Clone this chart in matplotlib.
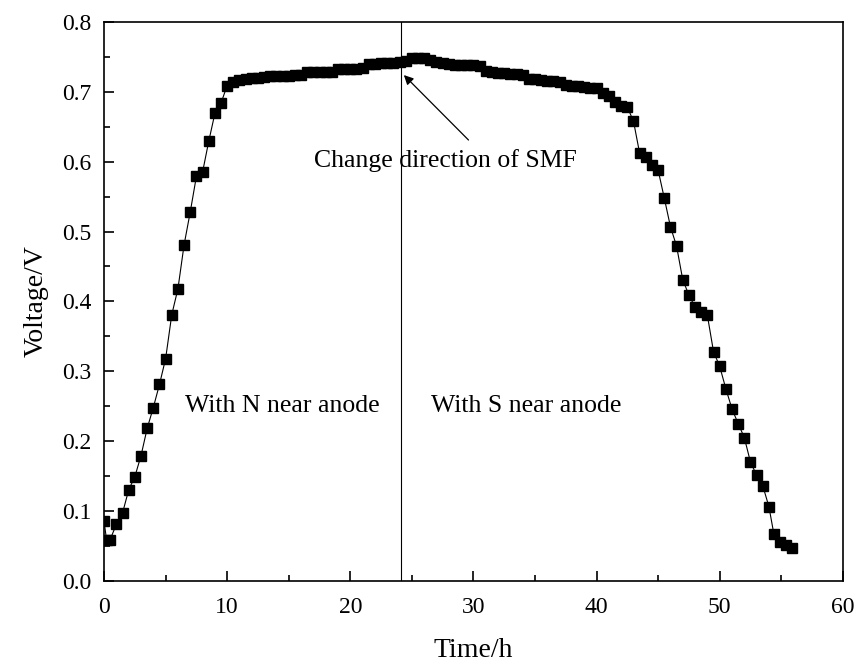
import matplotlib
matplotlib.use('Agg')
import matplotlib.pyplot as plt
import numpy as np
from matplotlib.ticker import MultipleLocator

plt.rcParams['font.family'] = ['Liberation Serif', 'DejaVu Serif']
plt.rcParams['mathtext.fontset'] = 'stix'

# time (h) and cell voltage (V)
time_h = [0.0, 0.2, 0.5, 1.0, 1.5, 2.0, 2.5, 3.0, 3.5, 4.0, 4.5, 5.0, 5.5,
          6.0, 6.5, 7.0, 7.5, 8.0, 8.5, 9.0, 9.5, 10.0, 10.5, 11.0, 11.5,
          12.0, 12.5, 13.0, 13.5, 14.0, 14.5, 15.0, 15.5, 16.0, 16.5, 17.0,
          17.5, 18.0, 18.5, 19.0, 19.5, 20.0, 20.5, 21.0, 21.5, 22.0, 22.5,
          23.0, 23.5, 24.0, 24.5, 25.0, 25.5, 26.0, 26.5, 27.0, 27.5, 28.0,
          28.5, 29.0, 29.5, 30.0, 30.5, 31.0, 31.5, 32.0, 32.5, 33.0, 33.5,
          34.0, 34.5, 35.0, 35.5, 36.0, 36.5, 37.0, 37.5, 38.0, 38.5, 39.0,
          39.5, 40.0, 40.5, 41.0, 41.5, 42.0, 42.5, 43.0, 43.5, 44.0, 44.5,
          45.0, 45.5, 46.0, 46.5, 47.0, 47.5, 48.0, 48.5, 49.0, 49.5, 50.0,
          50.5, 51.0, 51.5, 52.0, 52.5, 53.0, 53.5, 54.0, 54.4, 54.9, 55.4,
          55.9]
voltage = [0.085, 0.059, 0.059, 0.081, 0.097, 0.130, 0.149, 0.179, 0.218,
           0.248, 0.281, 0.318, 0.381, 0.418, 0.481, 0.528, 0.579, 0.585,
           0.629, 0.669, 0.684, 0.709, 0.714, 0.717, 0.719, 0.720, 0.720,
           0.721, 0.722, 0.722, 0.722, 0.723, 0.724, 0.724, 0.728, 0.728,
           0.729, 0.729, 0.729, 0.732, 0.733, 0.733, 0.733, 0.734, 0.740,
           0.740, 0.741, 0.741, 0.741, 0.742, 0.744, 0.749, 0.749, 0.748,
           0.745, 0.742, 0.741, 0.740, 0.739, 0.739, 0.738, 0.738, 0.737,
           0.730, 0.728, 0.727, 0.727, 0.726, 0.726, 0.724, 0.719, 0.718,
           0.717, 0.716, 0.715, 0.714, 0.710, 0.709, 0.708, 0.707, 0.706,
           0.705, 0.698, 0.694, 0.686, 0.680, 0.678, 0.658, 0.612, 0.606,
           0.595, 0.588, 0.548, 0.507, 0.479, 0.431, 0.409, 0.392, 0.385,
           0.380, 0.328, 0.307, 0.275, 0.246, 0.225, 0.205, 0.170, 0.151,
           0.136, 0.106, 0.067, 0.056, 0.051, 0.047]

switch_time = 24.1

fig = plt.figure(figsize=(8.6, 6.66), dpi=100)
ax = fig.add_axes([0.121, 0.128, 0.859, 0.839])

ax.plot(time_h, voltage, color='black', lw=0.8, marker='s', ms=7.8,
        mfc='black', mec='black')
ax.axvline(switch_time, color='black', lw=0.8)

# arrow pointing at the switch, label below it
ax.annotate('', xy=(24.35, 0.724), xytext=(29.6, 0.631),
            arrowprops=dict(arrowstyle='-|>', color='black', lw=0.9,
                            shrinkA=0, shrinkB=0, mutation_scale=14))
ax.text(27.7, 0.602, 'Change direction of SMF', ha='center', va='center',
        fontsize=18.5)
ax.text(14.5, 0.25, 'With N near anode', ha='center', va='center', fontsize=18.5)
ax.text(34.3, 0.25, 'With S near anode', ha='center', va='center', fontsize=18.5)

ax.set_xlim(0, 60)
ax.set_ylim(0, 0.8)
ax.xaxis.set_major_locator(MultipleLocator(10))
ax.xaxis.set_minor_locator(MultipleLocator(5))
ax.yaxis.set_major_locator(MultipleLocator(0.1))
ax.yaxis.set_minor_locator(MultipleLocator(0.05))
ax.yaxis.set_major_formatter(plt.FormatStrFormatter('%.1f'))
ax.tick_params(which='both', direction='in', labelsize=17, width=1.2)
ax.tick_params(which='major', length=7)
ax.tick_params(axis='x', which='major', pad=12)
ax.tick_params(axis='y', which='major', pad=9)
ax.tick_params(which='minor', length=4)
for s in ax.spines.values():
    s.set_linewidth(1.2)

ax.set_xlabel('Time/h', fontsize=20, labelpad=14)
ax.set_ylabel('Voltage/V', fontsize=20, labelpad=10)

plt.savefig('out.png', dpi=100)
